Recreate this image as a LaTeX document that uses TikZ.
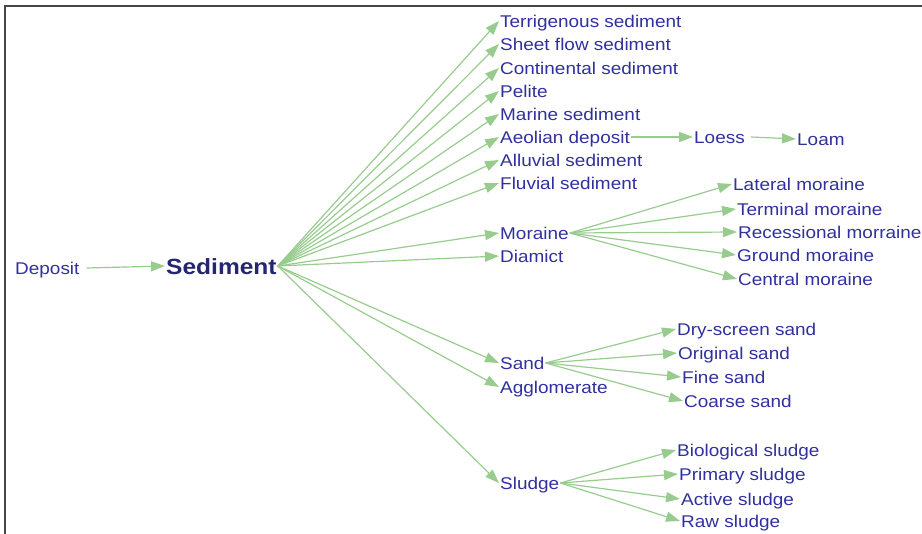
\documentclass[tikz,border=0pt]{standalone}
\usepackage{fontspec}
\setmainfont{Liberation Sans}[FakeStretch=1.115]
\usetikzlibrary{arrows.meta}
\definecolor{termblue}{RGB}{48, 48, 158}
\definecolor{rootblue}{RGB}{36, 38, 112}
\definecolor{linkgreen}{RGB}{152, 204, 142}
\definecolor{framegray}{RGB}{70, 70, 70}

\begin{document}
\begin{tikzpicture}[
    x=1pt, y=-1pt,
    term/.style={anchor=west, inner xsep=1pt, inner ysep=0pt, text=termblue,
                 text height=14pt, text depth=0pt,
                 font=\fontsize{17}{20}\selectfont},
    root/.style={anchor=west, inner xsep=1pt, inner ysep=0pt, text=rootblue,
                 text height=17pt, text depth=0pt,
                 font=\fontsize{22}{26}\selectfont\bfseries},
    link/.style={-{Triangle[length=14pt, width=10pt]}, line width=1.2pt, linkgreen}
]
\useasboundingbox (0,0) rectangle (922,534);

% Frame
\draw[framegray, line width=1.4pt] (5,534) -- (5,6) -- (922,6);

% Root
\node[term] (dep) at (14,268) {Deposit};
\node[root] (sed) at (165,266) {Sediment};

% Kinds of sediment
\node[term] (terr)  at (499, 21) {Terrigenous sediment};
\node[term] (sheet) at (499, 44) {Sheet flow sediment};
\node[term] (cont)  at (499, 68) {Continental sediment};
\node[term] (pel)   at (499, 91) {Pelite};
\node[term] (mar)   at (499,114) {Marine sediment};
\node[term] (aeol)  at (499,137) {Aeolian deposit};
\node[term] (allu)  at (499,160) {Alluvial sediment};
\node[term] (fluv)  at (499,183) {Fluvial sediment};
\node[term] (mor)   at (499,233) {Moraine};
\node[term] (diam)  at (499,256) {Diamict};
\node[term] (sand)  at (499,363) {Sand};
\node[term] (aggl)  at (499,387) {Agglomerate};
\node[term] (slud)  at (499,483) {Sludge};

% Aeolian chain
\node[term] (loess) at (693,137) {Loess};
\node[term] (loam)  at (796,139) {Loam};

% Moraines
\node[term] (lat)  at (732,184) {Lateral moraine};
\node[term] (ter)  at (736,209) {Terminal moraine};
\node[term] (rec)  at (737,232) {Recessional morraine};
\node[term] (gro)  at (736,255) {Ground moraine};
\node[term] (cen)  at (737,279) {Central moraine};

% Sands
\node[term] (dry)  at (676,329) {Dry-screen sand};
\node[term] (orig) at (677,353) {Original sand};
\node[term] (fine) at (681,377) {Fine sand};
\node[term] (coar) at (683,401) {Coarse sand};

% Sludges
\node[term] (bio)  at (676,450) {Biological sludge};
\node[term] (prim) at (678,474) {Primary sludge};
\node[term] (act)  at (680,499) {Active sludge};
\node[term] (raw)  at (680,521) {Raw sludge};

% Links: root
\draw[link] ([xshift=6pt]dep.east) -- (sed.west);

% Links: Sediment
\draw[link] (sed.east) -- (terr.west);
\draw[link] (sed.east) -- (sheet.west);
\draw[link] (sed.east) -- (cont.west);
\draw[link] (sed.east) -- (pel.west);
\draw[link] (sed.east) -- (mar.west);
\draw[link] (sed.east) -- (aeol.west);
\draw[link] (sed.east) -- (allu.west);
\draw[link] (sed.east) -- (fluv.west);
\draw[link] (sed.east) -- (mor.west);
\draw[link] (sed.east) -- (diam.west);
\draw[link] (sed.east) -- (sand.west);
\draw[link] (sed.east) -- (aggl.west);
\draw[link] (sed.east) -- (slud.west);

% Links: Aeolian deposit
\draw[link] (aeol.east) -- (loess.west);
\draw[link] ([xshift=5pt]loess.east) -- (loam.west);

% Links: Moraine
\draw[link] (mor.east) -- (lat.west);
\draw[link] (mor.east) -- (ter.west);
\draw[link] (mor.east) -- (rec.west);
\draw[link] (mor.east) -- (gro.west);
\draw[link] (mor.east) -- (cen.west);

% Links: Sand
\draw[link] (sand.east) -- (dry.west);
\draw[link] (sand.east) -- (orig.west);
\draw[link] (sand.east) -- (fine.west);
\draw[link] (sand.east) -- (coar.west);

% Links: Sludge
\draw[link] (slud.east) -- (bio.west);
\draw[link] (slud.east) -- (prim.west);
\draw[link] (slud.east) -- (act.west);
\draw[link] (slud.east) -- (raw.west);

\end{tikzpicture}
\end{document}
